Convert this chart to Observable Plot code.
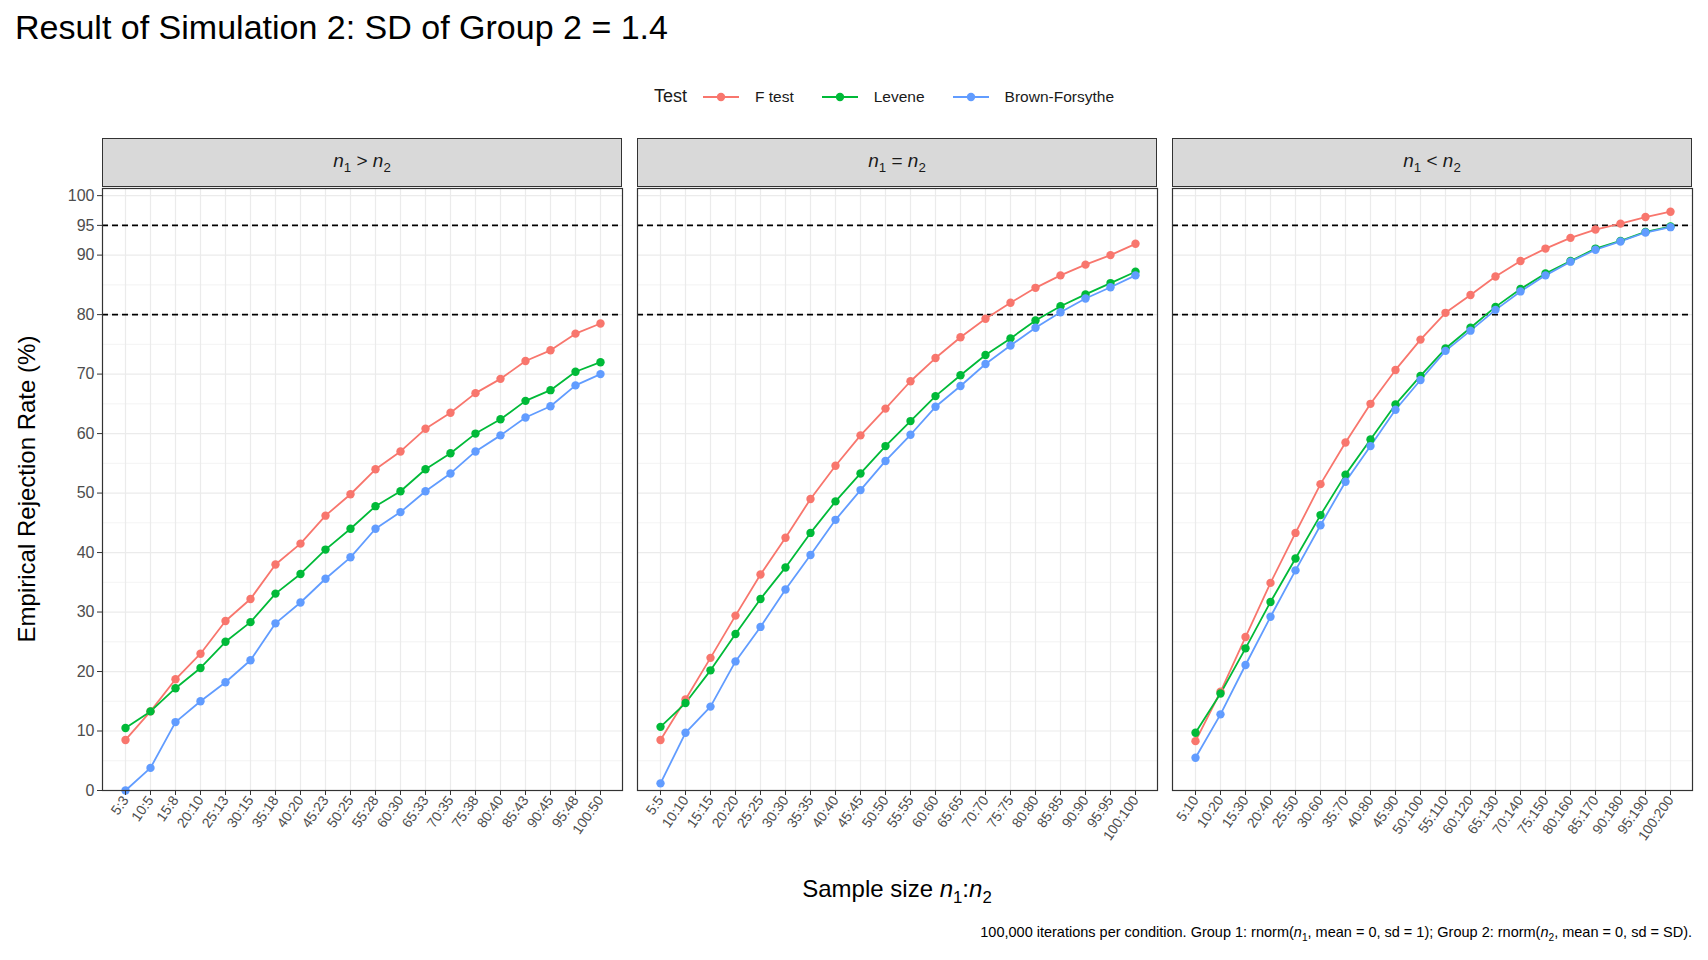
<!DOCTYPE html>
<html><head><meta charset="utf-8">
<script src="https://cdn.jsdelivr.net/npm/d3@7"></script>
<script src="https://cdn.jsdelivr.net/npm/@observablehq/plot@0.6"></script>
<style>
body{margin:0;width:1708px;height:960px;position:relative;background:#fff;font-family:"Liberation Sans",Arial,sans-serif;overflow:hidden}
.abs{position:absolute}
.strip{position:absolute;top:138px;height:49px;background:#D9D9D9;border:1px solid #333;box-sizing:border-box;display:flex;align-items:center;justify-content:center;font-size:19px;color:#1a1a1a}
sub{font-size:70%;vertical-align:-0.35em}
.leg{display:flex;align-items:center;font-size:15px;color:#1a1a1a}
</style></head><body>
<div class="abs" style="left:15px;top:8px;font-size:34px;color:#000">Result of Simulation 2: SD of Group 2 = 1.4</div>
<div id="legend" class="abs leg" style="left:0;width:1794px;top:86px;justify-content:center"></div>
<div id="charts"></div>
<div class="abs" style="left:0;width:1794px;top:875px;text-align:center;font-size:24px;color:#000">Sample size <i>n</i><sub>1</sub>:<i>n</i><sub>2</sub></div>
<div class="abs" style="left:27px;top:489px;transform:translate(-50%,-50%) rotate(-90deg);font-size:24px;white-space:nowrap;color:#000">Empirical Rejection Rate (%)</div>
<div class="abs" style="right:16px;top:924px;font-size:14.5px;color:#000">100,000 iterations per condition. Group 1: rnorm(<i>n</i><sub>1</sub>, mean = 0, sd = 1); Group 2: rnorm(<i>n</i><sub>2</sub>, mean = 0, sd = SD).</div>
<script>
const tests = ["F test","Levene","Brown-Forsythe"];
const colors = ["#F8766D","#00BA38","#619CFF"];
const n1s = [5,10,15,20,25,30,35,40,45,50,55,60,65,70,75,80,85,90,95,100];
const labelsGt = ["5:3","10:5","15:8","20:10","25:13","30:15","35:18","40:20","45:23","50:25","55:28","60:30","65:33","70:35","75:38","80:40","85:43","90:45","95:48","100:50"];
const labelsEq = n1s.map(n=>n+":"+n);
const labelsLt = n1s.map(n=>n+":"+(2*n));
const gtF  = [8.5,13.3,18.7,23,28.5,32.2,38,41.5,46.2,49.8,54,57,60.8,63.5,66.8,69.2,72.2,74,76.8,78.5];
const gtLev= [10.5,13.3,17.2,20.6,25,28.3,33.1,36.4,40.5,44,47.8,50.3,54,56.7,60,62.4,65.5,67.3,70.4,72];
const gtBF = [0,3.8,11.5,15,18.2,21.9,28.1,31.6,35.6,39.2,44,46.8,50.3,53.3,57,59.7,62.7,64.6,68.1,70];
const eqF  = [8.5,15.3,22.3,29.4,36.3,42.5,49,54.6,59.7,64.2,68.8,72.7,76.2,79.3,82,84.5,86.6,88.4,90,91.9];
const eqLev= [10.7,14.7,20.2,26.3,32.2,37.5,43.3,48.6,53.3,57.9,62.1,66.3,69.8,73.2,76,79,81.4,83.4,85.3,87.2];
const eqBF = [1.2,9.7,14.1,21.7,27.5,33.8,39.6,45.5,50.5,55.4,59.8,64.5,68,71.7,74.8,77.8,80.4,82.7,84.6,86.6];
const ltF  = [8.3,16.6,25.8,34.9,43.3,51.5,58.5,65,70.7,75.8,80.3,83.3,86.4,89,91.1,92.9,94.3,95.3,96.4,97.3];
const ltLev= [9.7,16.3,23.9,31.7,39,46.3,53.1,59,64.9,69.7,74.3,77.8,81.3,84.3,86.9,89,91.1,92.4,93.9,94.8];
const ltBF = [5.5,12.8,21.1,29.2,37,44.6,51.9,57.9,64,69,73.9,77.3,80.8,83.9,86.6,88.9,90.9,92.3,93.8,94.7];
const yTicks = [0,10,20,30,40,50,60,70,80,90,95,100];
const refLines = [80,95];
const panels = [
  {html:'<span><i>n</i><sub>1</sub> &gt; <i>n</i><sub>2</sub></span>', labels:labelsGt, series:[gtF,gtLev,gtBF], left:102},
  {html:'<span><i>n</i><sub>1</sub> = <i>n</i><sub>2</sub></span>', labels:labelsEq, series:[eqF,eqLev,eqBF], left:637},
  {html:'<span><i>n</i><sub>1</sub> &lt; <i>n</i><sub>2</sub></span>', labels:labelsLt, series:[ltF,ltLev,ltBF], left:1172}
];
const PW = 520, PH = 602;
const leg = document.getElementById("legend");
leg.innerHTML = '<span style="margin-right:14px;font-size:18px">Test</span>' + tests.map((t,i)=>
 `<svg width="40" height="16" style="margin-right:14px"><line x1="2" x2="38" y1="8" y2="8" stroke="${colors[i]}" stroke-width="1.8"/><circle cx="20" cy="8" r="4.2" fill="${colors[i]}"/></svg><span style="margin-right:26px;font-size:15.5px">${t}</span>`).join("");
const charts = document.getElementById("charts");
panels.forEach((p,pi)=>{
  const strip = document.createElement("div");
  strip.className="strip"; strip.style.left=p.left+"px"; strip.style.width=PW+"px"; strip.innerHTML=p.html;
  document.body.appendChild(strip);
  const data = [];
  p.series.forEach((s,si)=>s.forEach((v,i)=>data.push({x:p.labels[i],y:v,test:tests[si]})));
  const ml = pi===0 ? 60 : 1;
  const chart = Plot.plot({
    width: PW+ml+1, height: PH+1+85, marginLeft: ml, marginRight:1, marginTop:1, marginBottom:85,
    style:{fontFamily:"Liberation Sans, Arial, sans-serif", fontSize:"15px", color:"#4D4D4D", overflow:"visible"},
    x:{type:"point", domain:p.labels, padding:0.6, axis:null},
    y:{domain:[0,101.2], axis:null},
    color:{domain:tests, range:colors},
    marks:[
      Plot.ruleY(d3.range(5,101,10),{stroke:"#EBEBEB",strokeWidth:0.6}),
      Plot.ruleY(d3.range(0,101,10),{stroke:"#EBEBEB",strokeWidth:1.2}),
      Plot.ruleX(p.labels,{x:d=>d,stroke:"#EBEBEB",strokeWidth:1.2}),
      Plot.ruleY(refLines,{y:d=>d,stroke:"#000",strokeWidth:1.7,strokeDasharray:"6,4"}),
      Plot.line(data,{x:"x",y:"y",stroke:"test",strokeWidth:1.8}),
      Plot.dot(data,{x:"x",y:"y",fill:"test",r:4.2}),
      Plot.axisX({tickRotate:-55,tickSize:5,fontSize:14,stroke:"#333",tickPadding:2,label:null}),
      pi===0 ? Plot.axisY({ticks:yTicks,tickSize:5,fontSize:16,stroke:"#333",tickPadding:3,label:null}) : null,
      Plot.frame({stroke:"#333",strokeWidth:1.2})
    ]
  });
  chart.style.position="absolute"; chart.style.left=(p.left-ml)+"px"; chart.style.top=(188-1)+"px";
  charts.appendChild(chart);
});
</script></body></html>
